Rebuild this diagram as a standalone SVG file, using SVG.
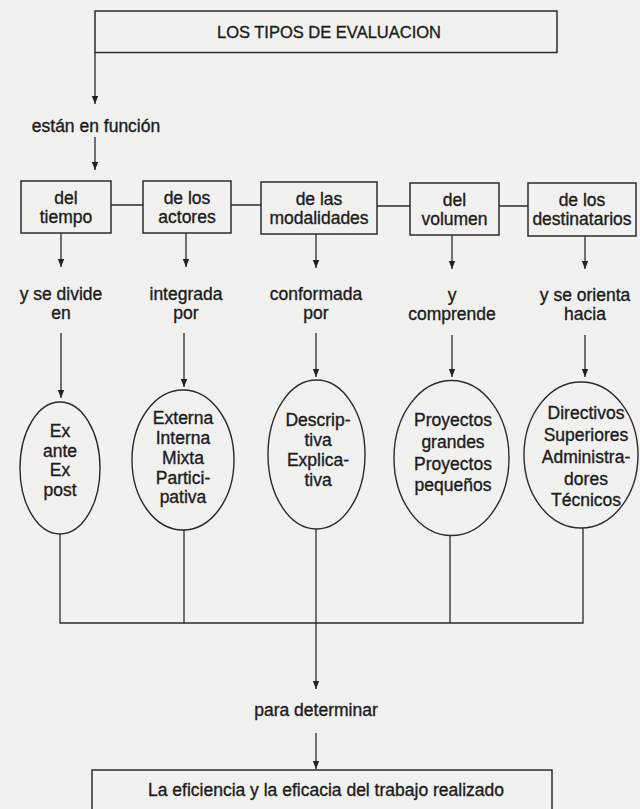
<svg xmlns="http://www.w3.org/2000/svg" width="640" height="809" viewBox="0 0 640 809">
<defs>
<marker id="ah" viewBox="0 0 8 8" refX="8" refY="4" markerWidth="8" markerHeight="8" markerUnits="userSpaceOnUse" orient="auto">
<path d="M0,0.8 L8,4 L0,7.2 Z" fill="#222"/>
</marker>
<style>
.bg{fill:#f1f1f0}
.box{fill:#f1f1f0;stroke:#2b2b2b;stroke-width:1.5}
.ell{fill:#f1f1f0;stroke:#2b2b2b;stroke-width:1.4}
.ln{fill:none;stroke:#2b2b2b;stroke-width:1.3}
.ar{fill:none;stroke:#2b2b2b;stroke-width:1.3;marker-end:url(#ah)}
text{font-family:"Liberation Sans",Arial,sans-serif;font-size:17.5px;fill:#1c1c1c;stroke:#1c1c1c;stroke-width:0.35;text-anchor:middle}
.title{font-size:16.5px}
</style>
</defs>
<rect class="bg" x="0" y="0" width="640" height="809"/>

<g id="connectors">
<path class="ar" d="M95,52 V104"/>
<path class="ar" d="M95,137 V170"/>
<path class="ln" d="M111,205 H143 M231,205 H261 M377,206 H410 M499,206 H528"/>
<path class="ar" d="M61,233 V267"/>
<path class="ar" d="M186,233 V267"/>
<path class="ar" d="M316,234 V268"/>
<path class="ar" d="M452,235 V269"/>
<path class="ar" d="M585,236 V269"/>
<path class="ar" d="M61,333 V398"/>
<path class="ar" d="M184,333 V387"/>
<path class="ar" d="M316,333 V377"/>
<path class="ar" d="M452,335 V377"/>
<path class="ar" d="M585,335 V377"/>
<path class="ln" d="M60,534 V623 H583 V528 M184,530 V623 M450,536 V623"/>
<path class="ar" d="M316,529 V689"/>
<path class="ar" d="M316,733 V769"/>
</g>

<g id="title">
<rect class="box" x="95" y="11" width="462" height="41.5"/>
<text class="title" x="329" y="38">LOS TIPOS DE EVALUACION</text>
</g>

<g id="lbl-funcion"><text x="96" y="132">están en función</text></g>

<g id="b-tiempo">
<rect class="box" x="21" y="181" width="90" height="52"/>
<text x="66" y="204">del</text><text x="66" y="223">tiempo</text>
</g>
<g id="b-actores">
<rect class="box" x="143" y="181" width="88" height="52"/>
<text x="187" y="204">de los</text><text x="187" y="223">actores</text>
</g>
<g id="b-modalidades">
<rect class="box" x="261" y="182" width="116" height="52"/>
<text x="319" y="205">de las</text><text x="319" y="224">modalidades</text>
</g>
<g id="b-volumen">
<rect class="box" x="410" y="183" width="89" height="52"/>
<text x="454.5" y="206">del</text><text x="454.5" y="225">volumen</text>
</g>
<g id="b-destinatarios">
<rect class="box" x="528" y="183" width="108" height="53"/>
<text x="582" y="206">de los</text><text x="582" y="225">destinatarios</text>
</g>

<g id="l-divide"><text x="61" y="300">y se divide</text><text x="61" y="319">en</text></g>
<g id="l-integrada"><text x="186" y="300">integrada</text><text x="186" y="319">por</text></g>
<g id="l-conformada"><text x="316" y="300">conformada</text><text x="316" y="319">por</text></g>
<g id="l-comprende"><text x="452" y="301">y</text><text x="452" y="320">comprende</text></g>
<g id="l-orienta"><text x="585" y="301">y se orienta</text><text x="585" y="320">hacia</text></g>

<g id="e-tiempo">
<ellipse class="ell" cx="60" cy="468" rx="40" ry="66"/>
<text x="60" y="437">Ex</text><text x="60" y="456.5">ante</text><text x="60" y="476">Ex</text><text x="60" y="495.5">post</text>
</g>
<g id="e-actores">
<ellipse class="ell" cx="183" cy="460" rx="51" ry="70"/>
<text x="183" y="424">Externa</text><text x="183" y="444">Interna</text><text x="183" y="464">Mixta</text><text x="183" y="484">Partici-</text><text x="183" y="503">pativa</text>
</g>
<g id="e-modalidades">
<ellipse class="ell" cx="316.5" cy="454.5" rx="48.5" ry="74.5"/>
<text x="318" y="426">Descrip-</text><text x="318" y="446">tiva</text><text x="318" y="466">Explica-</text><text x="318" y="486">tiva</text>
</g>
<g id="e-volumen">
<ellipse class="ell" cx="451.5" cy="458" rx="57.5" ry="77.5"/>
<text x="453" y="426">Proyectos</text><text x="453" y="448">grandes</text><text x="453" y="470">Proyectos</text><text x="453" y="491">pequeños</text>
</g>
<g id="e-destinatarios">
<ellipse class="ell" cx="581" cy="455" rx="57" ry="73"/>
<text x="586" y="419">Directivos</text><text x="586" y="441">Superiores</text><text x="586" y="463">Administra-</text><text x="586" y="484.5">dores</text><text x="586" y="506">Técnicos</text>
</g>

<g id="l-determinar"><text x="316" y="716">para determinar</text></g>

<g id="result">
<rect class="box" x="92" y="770" width="460" height="50"/>
<text x="326" y="796">La eficiencia y la eficacia del trabajo realizado</text>
</g>
</svg>
